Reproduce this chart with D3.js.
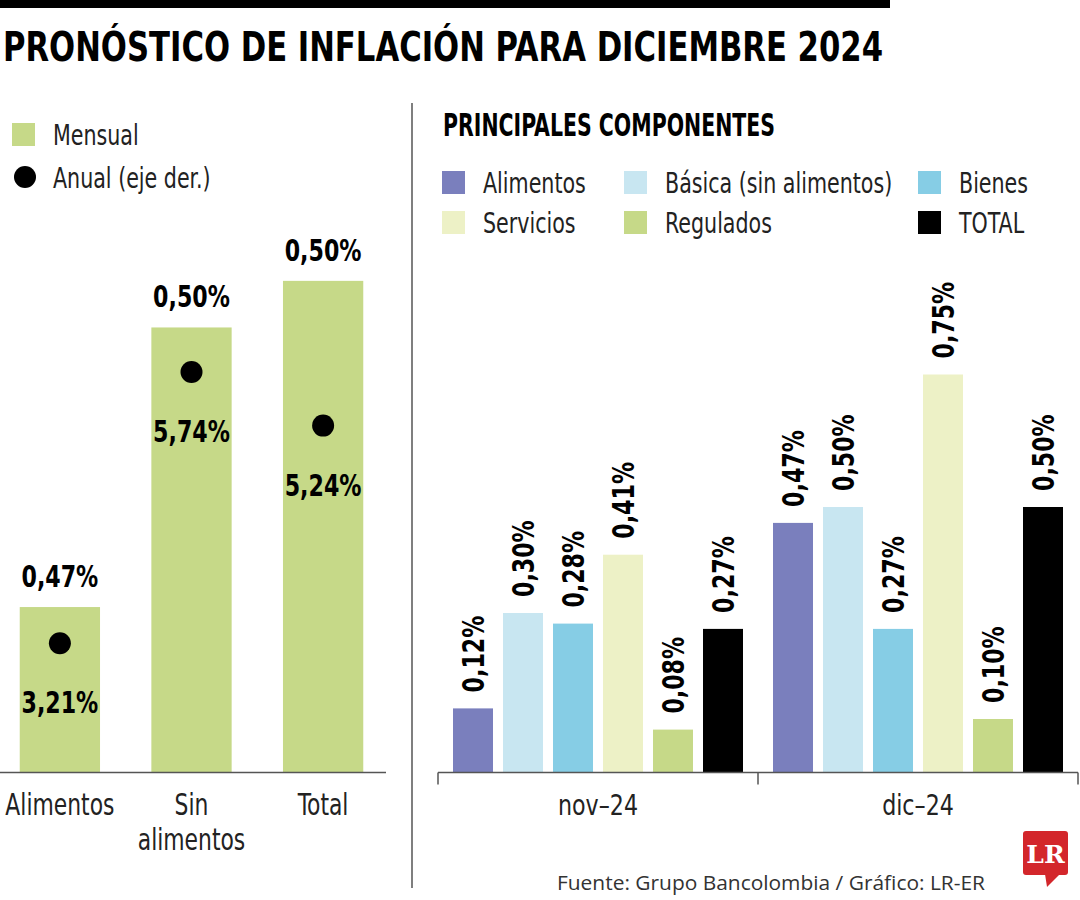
<!DOCTYPE html>
<html>
<head>
<meta charset="utf-8">
<script src="https://cdn.jsdelivr.net/npm/d3@7"></script>
<style>
  body { margin: 0; background: #fff; }
  svg { display: block; }
  .narrow { font-family: "DejaVu Sans Condensed", "DejaVu Sans", sans-serif; }
</style>
</head>
<body>
<div id="chart"></div>
<script>
// left panel data
const leftCats = ["Alimentos", "Sin alimentos", "Total"];
const leftCatLines = [["Alimentos"], ["Sin", "alimentos"], ["Total"]];
const mensual = [0.47, 0.50, 0.505];          // plotted monthly values (as drawn)
const mensualLabels = ["0,47%", "0,50%", "0,50%"];
const anual = [3.21, 5.74, 5.24];
const anualLabels = ["3,21%", "5,74%", "5,24%"];

// right panel data
const periods = ["nov–24", "dic–24"];
const components = ["Alimentos", "Básica (sin alimentos)", "Bienes", "Servicios", "Regulados", "TOTAL"];
const compColors = ["#7a7fbd", "#c8e6f1", "#86cde5", "#edf1c6", "#c6d988", "#000000"];
const novValues = [0.12, 0.30, 0.28, 0.41, 0.08, 0.27];
const dicValues = [0.47, 0.50, 0.27, 0.75, 0.10, 0.50];

const width = 1080, height = 900;
const green = "#c6d988";

// squeeze the installed font to look like a condensed face
function condense(sel, k) {
    sel.each(function () {
        const w = this.getComputedTextLength();
        d3.select(this).attr("textLength", w * k).attr("lengthAdjust", "spacingAndGlyphs");
    });
}

const svg = d3.select("#chart").append("svg")
    .attr("width", width)
    .attr("height", height);

// top bar + title
svg.append("rect").attr("x", 0).attr("y", 0).attr("width", 890).attr("height", 8).attr("fill", "#000");
svg.append("text")
    .attr("class", "narrow")
    .attr("x", 3).attr("y", 61)
    .attr("textLength", 880).attr("lengthAdjust", "spacingAndGlyphs")
    .style("font-size", "40px").style("font-weight", "bold")
    .text("PRONÓSTICO DE INFLACIÓN PARA DICIEMBRE 2024");

// separator
svg.append("line")
    .attr("x1", 412).attr("x2", 412).attr("y1", 103).attr("y2", 888)
    .attr("stroke", "#555").attr("stroke-width", 1.5);

// ---------- left chart ----------
const baseY = 772;
const xLeft = d3.scaleBand().domain(leftCats).range([0, 383]).paddingInner(0.39).paddingOuter(0.15);
const yMens = d3.scaleLinear().domain([0.4523, 0.5052]).range([baseY, 279]);
const yAnual = d3.scaleLinear().domain([2.01, 5.74]).range([baseY, 372]);

const left = svg.append("g");

// legend
left.append("rect").attr("x", 12).attr("y", 123).attr("width", 23).attr("height", 23).attr("fill", green);
left.append("circle").attr("cx", 25).attr("cy", 177).attr("r", 11).attr("fill", "#000");
left.append("text").attr("class", "narrow reg").attr("x", 53).attr("y", 145)
    .style("font-size", "29px").attr("fill", "#222").text("Mensual");
left.append("text").attr("class", "narrow reg").attr("x", 53).attr("y", 188)
    .style("font-size", "29px").attr("fill", "#222").text("Anual (eje der.)");

left.selectAll(".mbar")
    .data(leftCats)
    .join("rect")
    .attr("x", d => xLeft(d))
    .attr("width", xLeft.bandwidth())
    .attr("y", (d, i) => yMens(mensual[i]))
    .attr("height", (d, i) => baseY - yMens(mensual[i]))
    .attr("fill", green);

left.selectAll(".mlab")
    .data(leftCats)
    .join("text")
    .attr("class", "narrow bld")
    .attr("x", d => xLeft(d) + xLeft.bandwidth() / 2)
    .attr("y", (d, i) => yMens(mensual[i]) - 20)
    .attr("text-anchor", "middle")
    .style("font-size", "30px").style("font-weight", "bold")
    .text((d, i) => mensualLabels[i]);

left.selectAll(".dot")
    .data(leftCats)
    .join("circle")
    .attr("cx", d => xLeft(d) + xLeft.bandwidth() / 2)
    .attr("cy", (d, i) => yAnual(anual[i]))
    .attr("r", 11)
    .attr("fill", "#000");

left.selectAll(".alab")
    .data(leftCats)
    .join("text")
    .attr("class", "narrow bld")
    .attr("x", d => xLeft(d) + xLeft.bandwidth() / 2)
    .attr("y", (d, i) => yAnual(anual[i]) + 70)
    .attr("text-anchor", "middle")
    .style("font-size", "30px").style("font-weight", "bold")
    .text((d, i) => anualLabels[i]);

left.append("line")
    .attr("x1", 0).attr("x2", 386).attr("y1", baseY + 0.5).attr("y2", baseY + 0.5)
    .attr("stroke", "#555").attr("stroke-width", 1.5);

leftCats.forEach((c, i) => {
    leftCatLines[i].forEach((line, j) => {
        left.append("text")
            .attr("class", "narrow cat")
            .attr("x", xLeft(c) + xLeft.bandwidth() / 2)
            .attr("y", 815 + j * 35)
            .attr("text-anchor", "middle")
            .style("font-size", "30px")
            .attr("fill", "#222")
            .text(line);
    });
});

// ---------- right chart ----------
const right = svg.append("g");

right.append("text").attr("class", "narrow")
    .attr("x", 443).attr("y", 136)
    .attr("textLength", 332).attr("lengthAdjust", "spacingAndGlyphs")
    .style("font-size", "32px").style("font-weight", "bold")
    .text("PRINCIPALES COMPONENTES");

// legend (3 columns x 2 rows)
const legX = [442, 624, 918];
const legPos = [[0, 0], [1, 0], [2, 0], [0, 1], [1, 1], [2, 1]];
const legend = right.selectAll(".leg")
    .data(components)
    .join("g")
    .attr("transform", (d, i) => `translate(${legX[legPos[i][0]]},${171 + legPos[i][1] * 40})`);
legend.append("rect").attr("width", 23).attr("height", 23).attr("fill", (d, i) => compColors[i]);
legend.append("text").attr("class", "narrow reg")
    .attr("x", 41).attr("y", 22)
    .style("font-size", "29px").attr("fill", "#222")
    .text(d => d);

const x0 = d3.scaleBand().domain(periods).range([438, 1078]);
const x1 = d3.scaleBand().domain(components).range([0, x0.bandwidth()]).paddingInner(0.2).paddingOuter(0.3);
const yRight = d3.scaleLinear().domain([0, 0.8]).range([baseY, baseY - 424]);

const seriesByPeriod = [novValues, dicValues];
const groups = right.selectAll(".grp")
    .data(periods)
    .join("g")
    .attr("transform", d => `translate(${x0(d)},0)`);

groups.each(function (p, pi) {
    const g = d3.select(this);
    const vals = seriesByPeriod[pi];
    g.selectAll("rect")
        .data(components)
        .join("rect")
        .attr("x", d => x1(d))
        .attr("width", x1.bandwidth())
        .attr("y", (d, i) => yRight(vals[i]))
        .attr("height", (d, i) => baseY - yRight(vals[i]))
        .attr("fill", (d, i) => compColors[i]);
    g.selectAll("text")
        .data(components)
        .join("text")
        .attr("class", "narrow bld")
        .attr("transform", (d, i) => `translate(${x1(d) + x1.bandwidth() / 2},${yRight(vals[i]) - 16}) rotate(-90)`)
        .attr("dy", "0.36em")
        .style("font-size", "30px").style("font-weight", "bold")
        .text((d, i) => d3.format(".2f")(vals[i]).replace(".", ",") + "%");
});

// axis with ticks at group edges
const axisG = right.append("g").attr("transform", `translate(0,${baseY + 0.5})`);
axisG.append("line").attr("x1", x0.range()[0]).attr("x2", x0.range()[1])
    .attr("stroke", "#555").attr("stroke-width", 1.5);
const tickXs = periods.map(p => x0(p)).concat([x0.range()[1]]);
axisG.selectAll(".tick")
    .data(tickXs)
    .join("line")
    .attr("x1", d => d).attr("x2", d => d)
    .attr("y1", 0).attr("y2", 12)
    .attr("stroke", "#555").attr("stroke-width", 1.5);
axisG.selectAll(".plab")
    .data(periods)
    .join("text")
    .attr("class", "narrow per")
    .attr("x", d => x0(d) + x0.bandwidth() / 2)
    .attr("y", 42)
    .attr("text-anchor", "middle")
    .style("font-size", "29px").attr("fill", "#222")
    .text(d => d);

// condense the fallback font
condense(svg.selectAll("text.reg"), 0.79);
condense(svg.selectAll("text.cat"), 0.81);
condense(svg.selectAll("text.bld"), 0.82);
condense(svg.selectAll("text.per"), 0.85);

// source
svg.append("text")
    .attr("x", 557).attr("y", 890)
    .attr("textLength", 428).attr("lengthAdjust", "spacingAndGlyphs")
    .style("font-family", "'Open Sans', 'Noto Sans', sans-serif")
    .style("font-size", "20px").attr("fill", "#333")
    .text("Fuente: Grupo Bancolombia / Gráfico: LR-ER");

// LR logo
const logo = svg.append("g");
logo.append("rect").attr("x", 1023).attr("y", 831).attr("width", 45).attr("height", 44).attr("rx", 3).attr("fill", "#d3262b");
logo.append("path").attr("d", "M1045,874 L1060,874 L1047,887 Z").attr("fill", "#d3262b");
logo.append("text")
    .attr("x", 1045.5).attr("y", 863)
    .attr("text-anchor", "middle")
    .style("font-family", "'DejaVu Serif', 'Liberation Serif', serif")
    .style("font-size", "25px").style("font-weight", "bold")
    .attr("fill", "#fff")
    .text("LR");
</script>
</body>
</html>
